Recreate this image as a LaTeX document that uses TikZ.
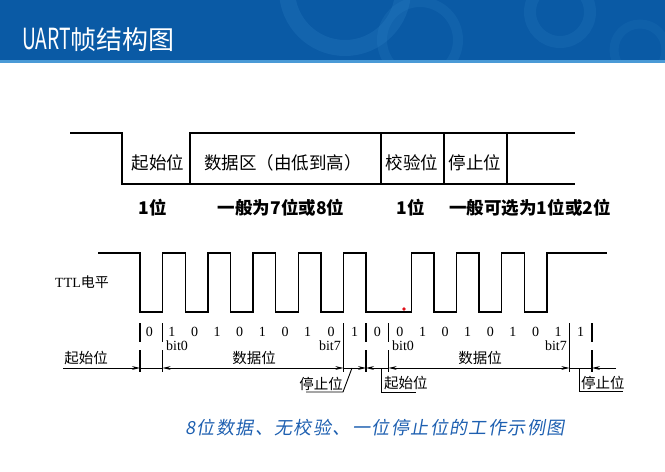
\documentclass[tikz,border=0pt]{standalone}
\usepackage{fontspec}
\setmainfont{Liberation Serif}
\newfontfamily\cjk{Noto Sans CJK SC}
\newfontfamily\cjkslant[FakeSlant=0.18]{Noto Sans CJK SC}
\usetikzlibrary{arrows.meta}

\definecolor{banner}{HTML}{0A5AA5}
\definecolor{bannerswirl}{HTML}{2C80C4}
\definecolor{bannerstrip}{HTML}{4A9AD6}
\definecolor{capblue}{HTML}{1D5FB0}
\definecolor{markred}{HTML}{E0101A}

\tikzset{
  frameline/.style={line width=2.6bp, line join=miter},
  wave/.style={line width=1.4bp, line join=miter},
  bittick/.style={line width=1.1bp},
  dimline/.style={line width=0.9bp},
  headR/.style={-{Stealth[length=8bp,width=3.8bp]}},
  headB/.style={{Stealth[length=8bp,width=3.8bp]}-{Stealth[length=8bp,width=3.8bp]}},
  boxlabel/.style={font=\cjk\fontsize{17.5bp}{20bp}\selectfont, inner sep=0pt},
  sizelabel/.style={font=\cjk\bfseries\fontsize{17.5bp}{20bp}\selectfont, inner sep=0pt},
  bitdigit/.style={font=\fontsize{14bp}{16bp}\selectfont, inner sep=0pt},
  fieldname/.style={font=\cjk\fontsize{14.5bp}{16bp}\selectfont, inner sep=0pt},
}

\begin{document}
\begin{tikzpicture}[x=1bp,y=-1bp]
\useasboundingbox (0,0) rectangle (665,472);

% ---- title banner ----
\fill[banner] (0,0) rectangle (665,61);
\begin{scope}
  \clip (0,0) rectangle (665,61);
  \draw[bannerswirl, opacity=0.28, line width=16bp] (345,-10) circle[radius=58];
  \draw[bannerswirl, opacity=0.22, line width=10bp] (420,40) circle[radius=38];
  \draw[bannerswirl, opacity=0.22, line width=12bp] (560,12) circle[radius=30];
  \draw[bannerswirl, opacity=0.16, line width=9bp] (640,50) circle[radius=26];
\end{scope}
\fill[bannerstrip] (0,60) rectangle (665,63);
\node[anchor=west, text=white, inner sep=0pt,
      font=\cjk\fontsize{26bp}{28bp}\selectfont] (title) at (22,40)
  {\scalebox{0.74}[1.12]{UART}帧结构图};

% ---- frame structure ----
\draw[frameline] (70,133) -- (122,133) -- (122,184) -- (575,184);
\draw[frameline] (190,184) -- (190,133) -- (575,133);
\draw[frameline] (381,133) -- (381,184);
\draw[frameline] (444,133) -- (444,184);
\draw[frameline] (507,133) -- (507,184);

\node[boxlabel] (fStart)  at (158,163) {起始位};
\node[boxlabel] (fData)   at (283,163) {数据区（由低到高）};
\node[boxlabel] (fParity) at (412,163) {校验位};
\node[boxlabel] (fStop)   at (475,163) {停止位};

\node[sizelabel] (nStart)  at (153,208) {1位};
\node[sizelabel] (nData)   at (281,208) {一般为7位或8位};
\node[sizelabel] (nParity) at (411,208) {1位};
\node[sizelabel] (nStop)   at (530,208) {一般可选为1位或2位};

% ---- TTL waveform ----
\node[anchor=west, inner sep=0pt, font=\fontsize{14bp}{16bp}\selectfont] (ttl) at (55,282)
  {TTL{\cjk 电平}};
\draw[wave] (98,253) -- (140,253) -- (140,312) -- (162.6,312) -- (162.6,253)
  -- (185.2,253) -- (185.2,312) -- (207.8,312) -- (207.8,253)
  -- (230.4,253) -- (230.4,312) -- (253,312) -- (253,253)
  -- (275.6,253) -- (275.6,312) -- (298.2,312) -- (298.2,253)
  -- (320.8,253) -- (320.8,312) -- (343.4,312) -- (343.4,253)
  -- (366,253) -- (366,312) -- (411.2,312) -- (411.2,253)
  -- (433.8,253) -- (433.8,312) -- (456.4,312) -- (456.4,253)
  -- (479,253) -- (479,312) -- (501.6,312) -- (501.6,253)
  -- (524.2,253) -- (524.2,312) -- (546.8,312) -- (546.8,253)
  -- (607,253);
\fill[markred] (404,309) circle[radius=1.9];

% ---- bit values ----
\foreach \xc/\v [count=\i] in {149.3/0, 171.8/1, 194.5/0, 217/1, 239.7/0, 262.3/1, 285/0, 307.5/1, 331.1/0, 354.7/1,
  377.3/0, 399.9/0, 422.5/1, 445.1/0, 467.7/1, 490.3/0, 512.9/1, 535.5/0, 558.1/1, 580.7/1}
  \node[bitdigit] (d\i) at (\xc,332) {\v};

\node[bitdigit, anchor=west] (b0a) at (166,346) {bit0};
\node[bitdigit, anchor=east] (b7a) at (341,346) {bit7};
\node[bitdigit, anchor=west] (b0b) at (392,346) {bit0};
\node[bitdigit, anchor=east] (b7b) at (567,346) {bit7};

% ---- bit boundary ticks ----
\foreach \name/\xt in {t0/140, t1/162.6, t10/366, t11/388.6, t20/592} {
  \draw[bittick] (\xt,323) -- (\xt,342);
  \draw[bittick] (\xt,350) -- (\xt,372);
  \coordinate (\name) at (\xt,368);
}
\foreach \name/\xt in {t9/343.4, t19/569.4} {
  \draw[bittick] (\xt,323) -- (\xt,372);
  \coordinate (\name) at (\xt,368);
}

% ---- field arrows ----
\coordinate (s1tail) at (63,368);
\coordinate (s2tail) at (616,368);
\draw[dimline, headR] (s1tail) -- (t0);
\draw[dimline] (t0) -- (t1);
\draw[dimline, headB] (t1) -- (t9);
\draw[dimline, headR] (t9) -- (t10);
\draw[dimline, headR] (t11) -- (t10);
\draw[dimline, headB] (t11) -- (t19);
\draw[dimline] (t19) -- (t20);
\draw[dimline, headR] (s2tail) -- (t20);

\node[fieldname] (lStart1) at (86,358) {起始位};
\node[fieldname] (lData1)  at (254,358) {数据位};
\node[fieldname] (lData2)  at (480,358) {数据位};

% stop bit callout, first frame
\node[fieldname] (lStop1) at (321,384) {停止位};
\coordinate (c1a) at (306,392);
\coordinate (c1b) at (343,392);
\coordinate (c1c) at (352,368);
\draw[dimline] (c1a) -- (c1b) -- (c1c);

% start bit callout, second frame
\node[fieldname, anchor=west] (lStart2) at (384,383) {起始位};
\coordinate (c2a) at (381,368);
\coordinate (c2b) at (381,392);
\coordinate (c2c) at (416,392);
\draw[dimline] (c2a) -- (c2b) -- (c2c);

% stop bit callout, second frame
\node[fieldname, anchor=west] (lStop2) at (581,383) {停止位};
\coordinate (c3a) at (579,368);
\coordinate (c3b) at (579,391);
\coordinate (c3c) at (623,391);
\draw[dimline] (c3a) -- (c3b) -- (c3c);

% ---- caption ----
\node[text=capblue, inner sep=0pt,
      font=\cjkslant\addfontfeatures{LetterSpace=8}\fontsize{18bp}{20bp}\selectfont]
  (caption) at (375,428) {8位数据、无校验、一位停止位的工作示例图};

\end{tikzpicture}
\end{document}
